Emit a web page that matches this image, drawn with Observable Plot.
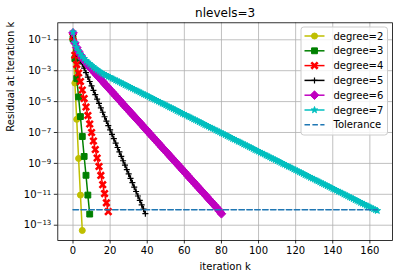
<!DOCTYPE html>
<html><head><meta charset="utf-8">
<script src="https://cdn.jsdelivr.net/npm/d3@7"></script>
<script src="https://cdn.jsdelivr.net/npm/@observablehq/plot@0.6"></script>
<style>body{margin:0;background:#fff}svg{display:block}</style>
</head><body><div id="chart"></div>
<script>
// log10 of residual at iteration k (k = index)
const deg2 = [-1.0, -3.8, -6.15, -8.68, -11.05, -13.34];
const deg3 = [-0.93, -2.22, -3.5, -4.7, -5.97, -7.26, -8.55, -9.77, -11.05, -12.28];
const deg4 = [-0.8, -2.0, -2.6, -3.15, -3.7, -4.25, -4.8, -5.35, -5.9, -6.45, -7.0, -7.55, -8.1, -8.65, -9.2, -9.78, -10.38, -10.95, -11.55, -12.12];
const deg5 = [-0.7, -1.3, -1.72, -2.05, -2.32, -2.56, -2.84, -3.13, -3.41, -3.7, -3.98, -4.27, -4.55, -4.84, -5.12, -5.41, -5.69, -5.98, -6.26, -6.55, -6.83, -7.12, -7.4, -7.69, -7.97, -8.26, -8.54, -8.83, -9.11, -9.4, -9.68, -9.97, -10.25, -10.54, -10.82, -11.11, -11.39, -11.68, -11.96, -12.25];
const deg6 = [-0.55, -1.2, -1.5, -1.75, -1.97, -2.17, -2.33, -2.48, -2.63, -2.77, -2.9, -3.04, -3.17, -3.31, -3.44, -3.57,
  -3.7, -3.84, -3.97, -4.1, -4.24, -4.37, -4.5, -4.63, -4.77, -4.9, -5.03, -5.17, -5.3, -5.43, -5.56, -5.7, -5.83, -5.96, -6.1, -6.23, -6.36, -6.49, -6.63, -6.76, -6.89, -7.03, -7.16, -7.29, -7.42, -7.56, -7.69, -7.82, -7.96, -8.09, -8.22, -8.35, -8.49, -8.62, -8.75, -8.89, -9.02, -9.15, -9.28, -9.42, -9.55, -9.68, -9.82, -9.95, -10.08, -10.21, -10.35, -10.48, -10.61, -10.75, -10.88, -11.01, -11.14, -11.28, -11.41, -11.54, -11.68, -11.81, -11.94, -12.1, -12.26];
const deg7 = [-0.5, -1.2, -1.5, -1.73, -1.92, -2.08, -2.22, -2.35, -2.46, -2.56, -2.66, -2.76, -2.86, -2.95, -3.04, -3.12,
  -3.19, -3.26, -3.31, -3.38, -3.43, -3.5, -3.55, -3.62, -3.67, -3.73, -3.8, -3.85, -3.92, -3.97, -4.03, -4.09, -4.15, -4.21, -4.28, -4.33, -4.39, -4.45, -4.52, -4.57,
  -4.63, -4.69, -4.76, -4.81, -4.87, -4.93, -4.99, -5.05, -5.12, -5.17, -5.23, -5.29, -5.36, -5.41, -5.47, -5.53, -5.6, -5.65, -5.71, -5.78,
  -5.83, -5.89, -5.96, -6.01, -6.07, -6.14, -6.19, -6.25, -6.32, -6.37, -6.43, -6.5, -6.55, -6.61, -6.68, -6.73, -6.79, -6.86, -6.91, -6.97,
  -7.04, -7.09, -7.15, -7.22, -7.27, -7.33, -7.4, -7.45, -7.51, -7.58, -7.63, -7.69, -7.76, -7.81, -7.87, -7.94, -7.99, -8.05, -8.12, -8.17,
  -8.23, -8.3, -8.35, -8.41, -8.48, -8.53, -8.59, -8.66, -8.71, -8.77, -8.84, -8.89, -8.95, -9.02, -9.07, -9.13, -9.2, -9.25, -9.31, -9.38,
  -9.43, -9.49, -9.56, -9.61, -9.67, -9.74, -9.79, -9.85, -9.92, -9.97, -10.03, -10.1, -10.15, -10.21, -10.28, -10.33, -10.39, -10.46, -10.51, -10.57,
  -10.64, -10.69, -10.75, -10.82, -10.87, -10.93, -11.0, -11.05, -11.11, -11.18, -11.23, -11.29, -11.36, -11.41, -11.47, -11.54, -11.59, -11.65, -11.72, -11.77,
  -11.83, -11.9, -11.95, -12.01, -12.06];

const seriesNames = ["degree=2", "degree=3", "degree=4", "degree=5", "degree=6", "degree=7"];
const seriesColors = ["#bfbf00", "#008000", "#ff0000", "#000000", "#bf00bf", "#00bfbf"];
const seriesSymbols = ["circle", "square", "times", "plus", "diamond2", "star"];
const tolerance = 1e-12;
const toleranceName = "Tolerance";
const xTicks = [0, 20, 40, 60, 80, 100, 120, 140, 160];
const yTickExps = [-1, -3, -5, -7, -9, -11, -13];
const titleText = "nlevels=3";
const xLabel = "iteration k";
const yLabel = "Residual at iteration k";

const sup = {"-": "\u207B", "0": "\u2070", "1": "\u00B9", "2": "\u00B2", "3": "\u00B3", "4": "\u2074", "5": "\u2075", "6": "\u2076", "7": "\u2077", "8": "\u2078", "9": "\u2079"};
const fmtPow = e => "10" + String(e).split("").map(c => sup[c]).join("");

const allSeries = [deg2, deg3, deg4, deg5, deg6, deg7];
const rows = allSeries.map(arr => arr.map((e, k) => ({k, r: Math.pow(10, e)})));
const maxK = d3.max(allSeries, a => a.length - 1);
const tolRows = [{k: 0, r: tolerance}, {k: maxK, r: tolerance}];

const FS = 10;
const symStyle = {
  circle: {r: 3.0, fillOn: true, sw: 1},
  square: {r: 3.3, fillOn: true, sw: 1},
  times: {r: 3.0, fillOn: false, sw: 2.6},
  plus: {r: 2.1, fillOn: false, sw: 1.2},
  diamond2: {r: 3.9, fillOn: true, sw: 1},
  star: {r: 2.05, fillOn: true, sw: 1}
};

const marks = [
  Plot.gridX(xTicks, {stroke: "#b0b0b0", strokeOpacity: 1, strokeWidth: 0.8}),
  Plot.gridY(yTickExps.map(e => Math.pow(10, e)), {stroke: "#b0b0b0", strokeOpacity: 1, strokeWidth: 0.8})
];
rows.forEach((data, i) => {
  const c = seriesColors[i], s = seriesSymbols[i], st = symStyle[s];
  marks.push(Plot.line(data, {x: "k", y: "r", stroke: c, strokeWidth: 1.5}));
  marks.push(Plot.dot(data, {x: "k", y: "r", symbol: () => s, r: st.r, fill: st.fillOn ? c : "none", stroke: c, strokeWidth: st.sw}));
});
marks.push(Plot.line(tolRows, {x: "k", y: "r", stroke: "#1f77b4", strokeWidth: 1.5, strokeDasharray: "5.5,2.4"}));
marks.push(Plot.frame({stroke: "black", strokeWidth: 0.8}));
marks.push(Plot.axisX(xTicks, {tickSize: 3.5, tickPadding: 3, fontSize: FS, label: null, strokeWidth: 0.8}));
marks.push(Plot.axisY(yTickExps.map(e => Math.pow(10, e)), {tickSize: 3.5, tickPadding: 3, fontSize: FS, label: null, strokeWidth: 0.8,
  tickFormat: d => fmtPow(Math.round(Math.log10(d)))}));
marks.push(Plot.text([titleText], {text: d => d, frameAnchor: "top", dy: -10, fontSize: 12, lineAnchor: "middle"}));
marks.push(Plot.text([xLabel], {text: d => d, frameAnchor: "bottom", dy: 26.5, fontSize: FS, lineAnchor: "middle"}));
marks.push(Plot.text([yLabel], {text: d => d, frameAnchor: "left", dx: -47, rotate: -90, fontSize: FS, lineAnchor: "middle"}));

const plot = Plot.plot({
  width: 399, height: 278,
  marginLeft: 57.3, marginRight: 7, marginTop: 22.3, marginBottom: 38,
  style: {fontFamily: "DejaVu Sans", fontSize: FS + "px", color: "black", background: "white"},
  x: {domain: [-8.2, 172.2]},
  y: {type: "log", domain: [Math.pow(10, -13.99), Math.pow(10, 0.1)]},
  marks
});
document.getElementById("chart").appendChild(plot);

const svg = d3.select(plot);

// mathtext-like superscripts on y tick labels
const labelToExp = new Map(yTickExps.map(e => [fmtPow(e), e]));
svg.selectAll("text").each(function () {
  const t = this.textContent;
  if (labelToExp.has(t)) {
    const e = labelToExp.get(t);
    const sel = d3.select(this);
    sel.text(null);
    sel.append("tspan").text("10");
    sel.append("tspan").attr("font-size", "7px").attr("dy", "-0.42em").text(String(e).replace("-", "\u2212"));
  }
});

// legend
const lg = svg.append("g").attr("font-family", "DejaVu Sans").attr("font-size", FS + "px").attr("text-anchor", "start");
lg.append("rect").attr("x", 301).attr("y", 27).attr("width", 86.5).attr("height", 108).attr("rx", 2.8)
  .attr("fill", "white").attr("fill-opacity", 0.8).attr("stroke", "#cccccc").attr("stroke-width", 1);
const d3Sym = {circle: d3.symbolCircle, square: d3.symbolSquare, times: d3.symbolTimes, plus: d3.symbolPlus, diamond2: d3.symbolDiamond2, star: d3.symbolStar};
const legendItems = seriesNames.map((n, i) => ({name: n, color: seriesColors[i], symbol: seriesSymbols[i]}));
legendItems.push({name: toleranceName, color: "#1f77b4", symbol: null, dash: "5.5,2.4"});
legendItems.forEach((it, i) => {
  const y = 36 + i * 14.8;
  lg.append("line").attr("x1", 304.5).attr("x2", 324.5).attr("y1", y).attr("y2", y)
    .attr("stroke", it.color).attr("stroke-width", 1.5).attr("stroke-dasharray", it.dash || null);
  if (it.symbol) {
    const st = symStyle[it.symbol];
    lg.append("path").attr("transform", `translate(314.5,${y})`)
      .attr("d", d3.symbol(d3Sym[it.symbol], Math.PI * st.r * st.r)())
      .attr("fill", st.fillOn ? it.color : "none").attr("stroke", it.color).attr("stroke-width", st.sw);
  }
  lg.append("text").attr("x", 333.5).attr("y", y).attr("dy", "0.35em").attr("fill", "black").text(it.name);
});
</script>
</body></html>
